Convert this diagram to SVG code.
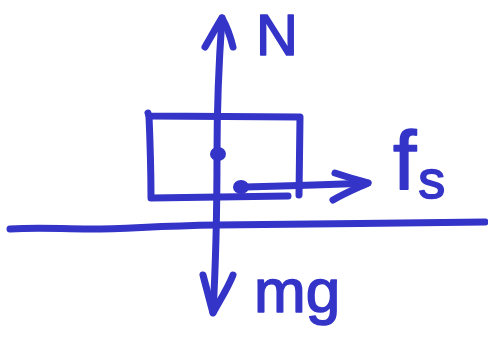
<svg xmlns="http://www.w3.org/2000/svg" width="488" height="337" viewBox="0 0 488 337">
  <style>
    .ink { fill: none; stroke: #3434c8; stroke-width: 7; stroke-linecap: round; stroke-linejoin: round; }
    .dot { fill: #3434c8; }
    .lbl { fill: #3434c8; stroke: #3434c8; stroke-width: 1.6; stroke-linejoin: round; font-family: "Liberation Sans", "DejaVu Sans", sans-serif; }
  </style>
  <rect width="488" height="337" fill="#ffffff"/>
  <g id="ground">
    <path class="ink" d="M10,229 C40,227 60,229 90,229 C130,229 150,226 217,225 C300,224 400,223 485,222"/>
  </g>
  <g id="block">
    <path class="ink" d="M148,113 L149,116 L300,117 L299,195"/>
    <path class="ink" d="M149,116 C150,140 151,170 151,198 L288,196"/>
  </g>
  <g id="connectors">
    <path class="ink" d="M222,18 C219,60 217,120 217,154 C217,200 216,260 213,312"/>
    <path class="ink" d="M205,47 C212,35 218,24 222,18 C226,25 230,35 233,47"/>
    <path class="ink" d="M203,275 C207,290 210,302 213,313 C220,300 228,288 233,275"/>
    <path class="ink" d="M241,187 C280,186 320,185 368,183"/>
    <path class="ink" d="M335,173 C347,177 358,180 368,183 C355,189 343,194 333,200"/>
    <ellipse class="dot" cx="218" cy="154" rx="8" ry="7"/>
    <ellipse class="dot" cx="241" cy="187" rx="8" ry="7"/>
  </g>
  <g id="label-N">
    <text class="lbl" x="256" y="55" font-size="58">N</text>
  </g>
  <g id="label-fs">
    <text class="lbl" x="393" y="190" font-size="84">f<tspan font-size="54" dy="8" dx="2">s</tspan></text>
  </g>
  <g id="label-mg">
    <text class="lbl" x="254" y="312" font-size="62">mg</text>
  </g>
</svg>
